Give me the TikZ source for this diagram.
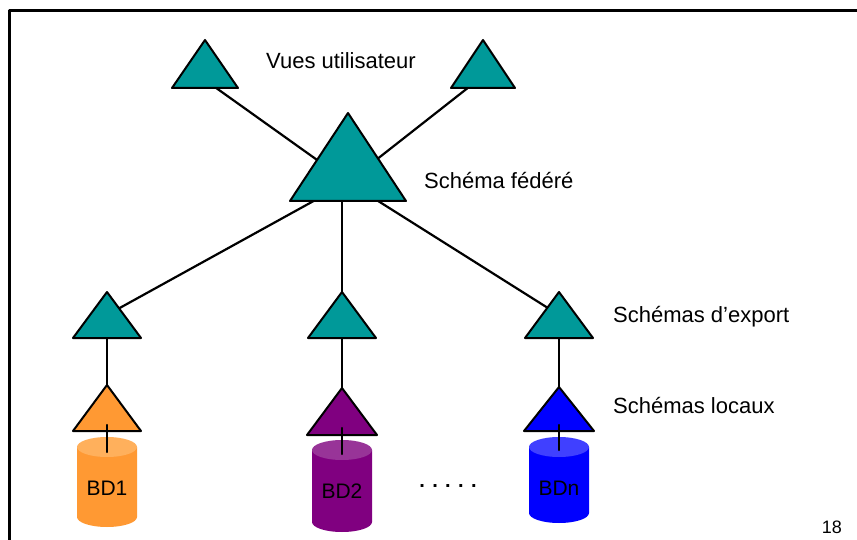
\documentclass[tikz,border=0pt]{standalone}
\usepackage{fontspec}
\setmainfont{Liberation Sans}
\begin{document}
\begin{tikzpicture}[x=1pt, y=-1pt, line cap=round, line join=round]
% Federated database: schema levels
\def\linkwd{2.2pt}
\providecommand{\fedLabelFont}{\fontsize{22}{26}\selectfont}
\providecommand{\fedBdFont}{\fontsize{21}{25}\selectfont}
\definecolor{fedTeal}{RGB}{0,153,153}
\definecolor{bdOrange}{RGB}{255,153,51}
\definecolor{bdOrangeTop}{RGB}{255,176,92}
\definecolor{bdPurple}{RGB}{128,0,128}
\definecolor{bdPurpleTop}{RGB}{152,52,152}
\definecolor{bdBlue}{RGB}{0,0,255}
\definecolor{bdBlueTop}{RGB}{64,64,255}
\tikzset{
  link/.style={draw=black, line width=\linkwd},
  schema/.style={draw=black, line width=2pt},
  lbl/.style={anchor=base west, inner sep=0pt, font=\fedLabelFont},
  bdlbl/.style={anchor=base, inner sep=0pt, font=\fedBdFont},
}
\useasboundingbox (0,0) rectangle (857,540);
% Frame
\draw[line width=3pt] (9,545) -- (9,11) -- (862,11);
% Link points of the schemas
\coordinate (vue1) at (205,80);
\coordinate (vue2) at (483,76);
\coordinate (fed) at (348,182);
\coordinate (exp1) at (107,315);
\coordinate (exp2) at (342,315);
\coordinate (exp3) at (559,315);
\coordinate (loc1) at (107,425);
\coordinate (loc2) at (342,428);
\coordinate (loc3) at (559,425);
\coordinate (bd1top) at (107,452);
\coordinate (bd2top) at (342,454);
\coordinate (bd3top) at (559,450);
% Links (behind the triangles)
\begin{scope}[link]
  \draw (vue1) -- (fed);
  \draw (vue2) -- (fed);
  \draw (fed) -- (exp1);
  \draw (exp2 |- fed) -- (exp2);
  \draw (fed) -- (exp3);
  \draw (exp1) -- (loc1);
  \draw (exp2) -- (loc2);
  \draw (exp3) -- (loc3);
\end{scope}
% User views, federated schema, export schemas
\begin{scope}[schema, fill=fedTeal]
  \filldraw (205,40) -- ++(33,48) -- ++(-66,0) -- cycle;
  \filldraw (483,40) -- ++(32,48) -- ++(-64,0) -- cycle;
  \filldraw (348,113) -- ++(58,88) -- ++(-116,0) -- cycle;
  \filldraw (107,292) -- ++(34,46) -- ++(-68,0) -- cycle;
  \filldraw (342,292) -- ++(34,46) -- ++(-68,0) -- cycle;
  \filldraw (559,292) -- ++(34,46) -- ++(-68,0) -- cycle;
\end{scope}
% Local schemas
\filldraw[schema, fill=bdOrange] (107,385) -- ++(34,46) -- ++(-68,0) -- cycle;
\filldraw[schema, fill=bdPurple] (342,388) -- ++(35,47) -- ++(-70,0) -- cycle;
\filldraw[schema, fill=bdBlue] (559,387) -- ++(35,44) -- ++(-70,0) -- cycle;
% Databases
\fill[bdOrange] (77,447) -- (77,517) arc[start angle=180, end angle=0, x radius=30, y radius=10] -- (137,447) -- cycle;
\fill[bdOrangeTop] (107,447) ellipse[x radius=30, y radius=10];
\fill[bdPurple] (312,450) -- (312,522) arc[start angle=180, end angle=0, x radius=30, y radius=10] -- (372,450) -- cycle;
\fill[bdPurpleTop] (342,450) ellipse[x radius=30, y radius=10];
\fill[bdBlue] (529,447) -- (529,513) arc[start angle=180, end angle=0, x radius=30, y radius=10] -- (589,447) -- cycle;
\fill[bdBlueTop] (559,447) ellipse[x radius=30, y radius=10];
% Local schema to database
\begin{scope}[link]
  \draw (loc1) -- (bd1top);
  \draw (loc2) -- (bd2top);
  \draw (loc3) -- (bd3top);
\end{scope}
% Labels
\node[lbl] (vuesLbl) at (266,68.5) {Vues utilisateur};
\node[lbl] (fedLbl) at (424,188.5) {Schéma fédéré};
\node[lbl] (expLbl) at (613,322) {Schémas d'export};
\node[lbl] (locLbl) at (613,413) {Schémas locaux};
\node[bdlbl] (bd1) at (107,495) {BD1};
\node[bdlbl] (bd2) at (342,498) {BD2};
\node[bdlbl] (bd3) at (559,495) {BDn};
\node[anchor=base, inner sep=0pt, font=\fontsize{20}{24}\selectfont\bfseries] (dots) at (448,487) {. . . . .};
\node[anchor=base east, inner sep=0pt, font=\fontsize{18}{21}\selectfont] (page) at (842,533) {18};
\end{tikzpicture}
\end{document}
